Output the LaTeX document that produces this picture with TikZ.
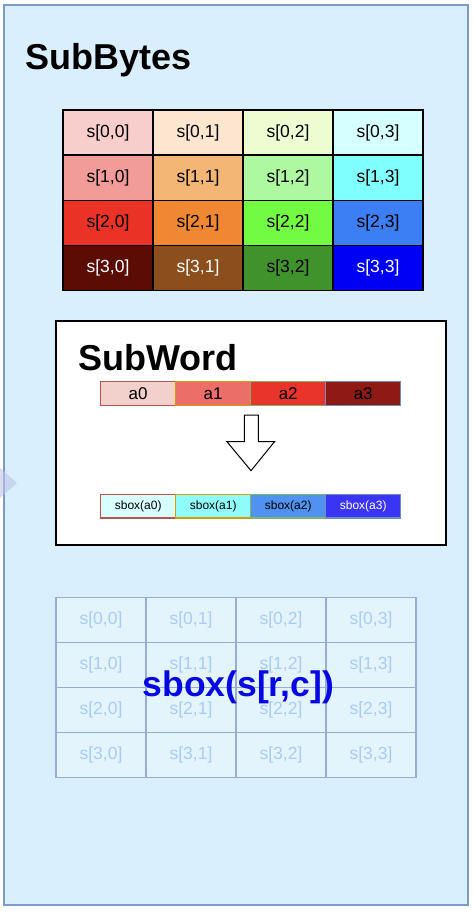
\documentclass[tikz,border=0pt]{standalone}
\usepackage{fontspec}
\setmainfont{Liberation Sans}
\usepackage{tikz}
\usetikzlibrary{calc}
\usetikzlibrary{shapes}

\definecolor{panelfill}{HTML}{DAEFFE}
\definecolor{paneldraw}{HTML}{7C9ACC}
\definecolor{fadefill}{HTML}{E3F4FC}
\definecolor{fadedraw}{HTML}{97ADD3}
\definecolor{fadetext}{HTML}{A9CCF6}
\definecolor{sboxblue}{HTML}{0808E4}
\definecolor{ca}{HTML}{F8CECC}\definecolor{cb}{HTML}{FCE6D0}\definecolor{cc}{HTML}{EBFDD1}\definecolor{cd}{HTML}{D6FFFF}
\definecolor{ce}{HTML}{F19C99}\definecolor{cf}{HTML}{F4B674}\definecolor{cg}{HTML}{AEF9A0}\definecolor{ch}{HTML}{80FFFF}
\definecolor{ci}{HTML}{EA3326}\definecolor{cj}{HTML}{F08833}\definecolor{ck}{HTML}{73FB43}\definecolor{cl}{HTML}{3C7EF4}
\definecolor{cm}{HTML}{5A0C05}\definecolor{cn}{HTML}{8B4E1C}\definecolor{co}{HTML}{40922C}\definecolor{cp}{HTML}{0000F5}
\definecolor{wa}{HTML}{F2D0CC}\definecolor{wb}{HTML}{EB6E68}\definecolor{wc}{HTML}{E8342A}\definecolor{wd}{HTML}{8D1B13}
\definecolor{xa}{HTML}{D8FFFF}\definecolor{xb}{HTML}{8FFCFA}\definecolor{xc}{HTML}{4F92F0}\definecolor{xd}{HTML}{3A35F4}
\definecolor{ba}{HTML}{B85450}\definecolor{bb}{HTML}{D79B00}\definecolor{bc}{HTML}{82B366}\definecolor{bd}{HTML}{6C8EBF}

\newcommand{\scell}[6]{\node[cellbox, fill=#4, text=#5] (#1) at (#2,#3) {#6};}
\newcommand{\fcell}[4]{\node[fadebox] (#1) at (#2,#3) {#4};}
\newcommand{\wcell}[6]{\node[wordbox, fill=#4, draw=#5] (#1) at (#2,#3) {#6};}

\tikzset{
  cellbox/.style={draw=black, line width=1.2pt, minimum width=90pt, minimum height=45pt, inner sep=0pt, font=\fontsize{17.5}{20}\selectfont},
  fadebox/.style={draw=fadedraw, fill=fadefill, line width=1.2pt, text=fadetext, minimum width=90pt, minimum height=45pt, inner sep=0pt, font=\fontsize{17.5}{20}\selectfont},
  wordbox/.style={line width=1.2pt, minimum width=75pt, minimum height=23.5pt, inner sep=0pt},
  title/.style={anchor=base west, inner sep=0pt, font=\fontsize{36}{40}\selectfont\bfseries}
}

\begin{document}
\begin{tikzpicture}[x=1pt, y=-1pt]
    \useasboundingbox (0,0) rectangle (474,912);
    \fill[white] (0,0) rectangle (474,912);
    \filldraw[fill=panelfill, draw=paneldraw, line width=1.5pt] (4,5) rectangle (468,905);
    \fill[fill=cyan!30!blue!25, opacity=0.6] (0,468) -- (17,483) -- (0,498) -- cycle;

    \node[title] (subbytes) at (25,70) {SubBytes};

    \scell{s00}{108}{132.6}{ca}{black}{s[0,0]}
    \scell{s01}{198}{132.6}{cb}{black}{s[0,1]}
    \scell{s02}{288}{132.6}{cc}{black}{s[0,2]}
    \scell{s03}{378}{132.6}{cd}{black}{s[0,3]}

    \scell{s10}{108}{177.7}{ce}{black}{s[1,0]}
    \scell{s11}{198}{177.7}{cf}{black}{s[1,1]}
    \scell{s12}{288}{177.7}{cg}{black}{s[1,2]}
    \scell{s13}{378}{177.7}{ch}{black}{s[1,3]}

    \scell{s20}{108}{222.8}{ci}{black}{s[2,0]}
    \scell{s21}{198}{222.8}{cj}{black}{s[2,1]}
    \scell{s22}{288}{222.8}{ck}{black}{s[2,2]}
    \scell{s23}{378}{222.8}{cl}{black}{s[2,3]}

    \scell{s30}{108}{267.9}{cm}{white}{s[3,0]}
    \scell{s31}{198}{267.9}{cn}{white}{s[3,1]}
    \scell{s32}{288}{267.9}{co}{black}{s[3,2]}
    \scell{s33}{378}{267.9}{cp}{white}{s[3,3]}

    \node[draw=black, fill=white, line width=1.5pt, minimum width=390pt, minimum height=224pt, inner sep=0pt] (subwordbox) at (251,432.8) {};
    \node[title] (subword) at (78,370) {SubWord};

    \begin{scope}[font=\fontsize{17}{20}\selectfont]
    \wcell{a0}{138.2}{393.4}{wa}{ba}{a0}
    \wcell{a1}{213.2}{393.4}{wb}{bb}{a1}
    \wcell{a2}{288.2}{393.4}{wc}{bc}{a2}
    \wcell{a3}{363.2}{393.4}{wd}{bd}{a3}
    \end{scope}

    \filldraw[fill=white, draw=black, line width=1pt] (244.3,415) -- (258.3,415) -- (258.3,441.7) -- (274.5,441.7) -- (251,470.7) -- (227,441.7) -- (244.3,441.7) -- cycle;

    \begin{scope}[font=\fontsize{12}{14}\selectfont]
    \wcell{b0}{138.2}{506.3}{xa}{ba}{sbox(a0)}
    \wcell{b1}{213.2}{506.3}{xb}{bb}{sbox(a1)}
    \wcell{b2}{288.2}{506.3}{xc}{bc}{sbox(a2)}
    \node[wordbox, fill=xd, draw=bd, text=white] (b3) at (363.2,506.3) {sbox(a3)};
    \end{scope}

    \fcell{f00}{101}{620.2}{s[0,0]}
    \fcell{f01}{191}{620.2}{s[0,1]}
    \fcell{f02}{281}{620.2}{s[0,2]}
    \fcell{f03}{371}{620.2}{s[0,3]}

    \fcell{f10}{101}{665.2}{s[1,0]}
    \fcell{f11}{191}{665.2}{s[1,1]}
    \fcell{f12}{281}{665.2}{s[1,2]}
    \fcell{f13}{371}{665.2}{s[1,3]}

    \fcell{f20}{101}{710.2}{s[2,0]}
    \fcell{f21}{191}{710.2}{s[2,1]}
    \fcell{f22}{281}{710.2}{s[2,2]}
    \fcell{f23}{371}{710.2}{s[2,3]}

    \fcell{f30}{101}{755.2}{s[3,0]}
    \fcell{f31}{191}{755.2}{s[3,1]}
    \fcell{f32}{281}{755.2}{s[3,2]}
    \fcell{f33}{371}{755.2}{s[3,3]}

    \node[anchor=base, inner sep=0pt, text=sboxblue, font=\fontsize{35.5}{40}\selectfont\bfseries] (sboxsrc) at (238.4,696.2) {sbox(s[r,c])};
    \end{tikzpicture}
\end{document}
